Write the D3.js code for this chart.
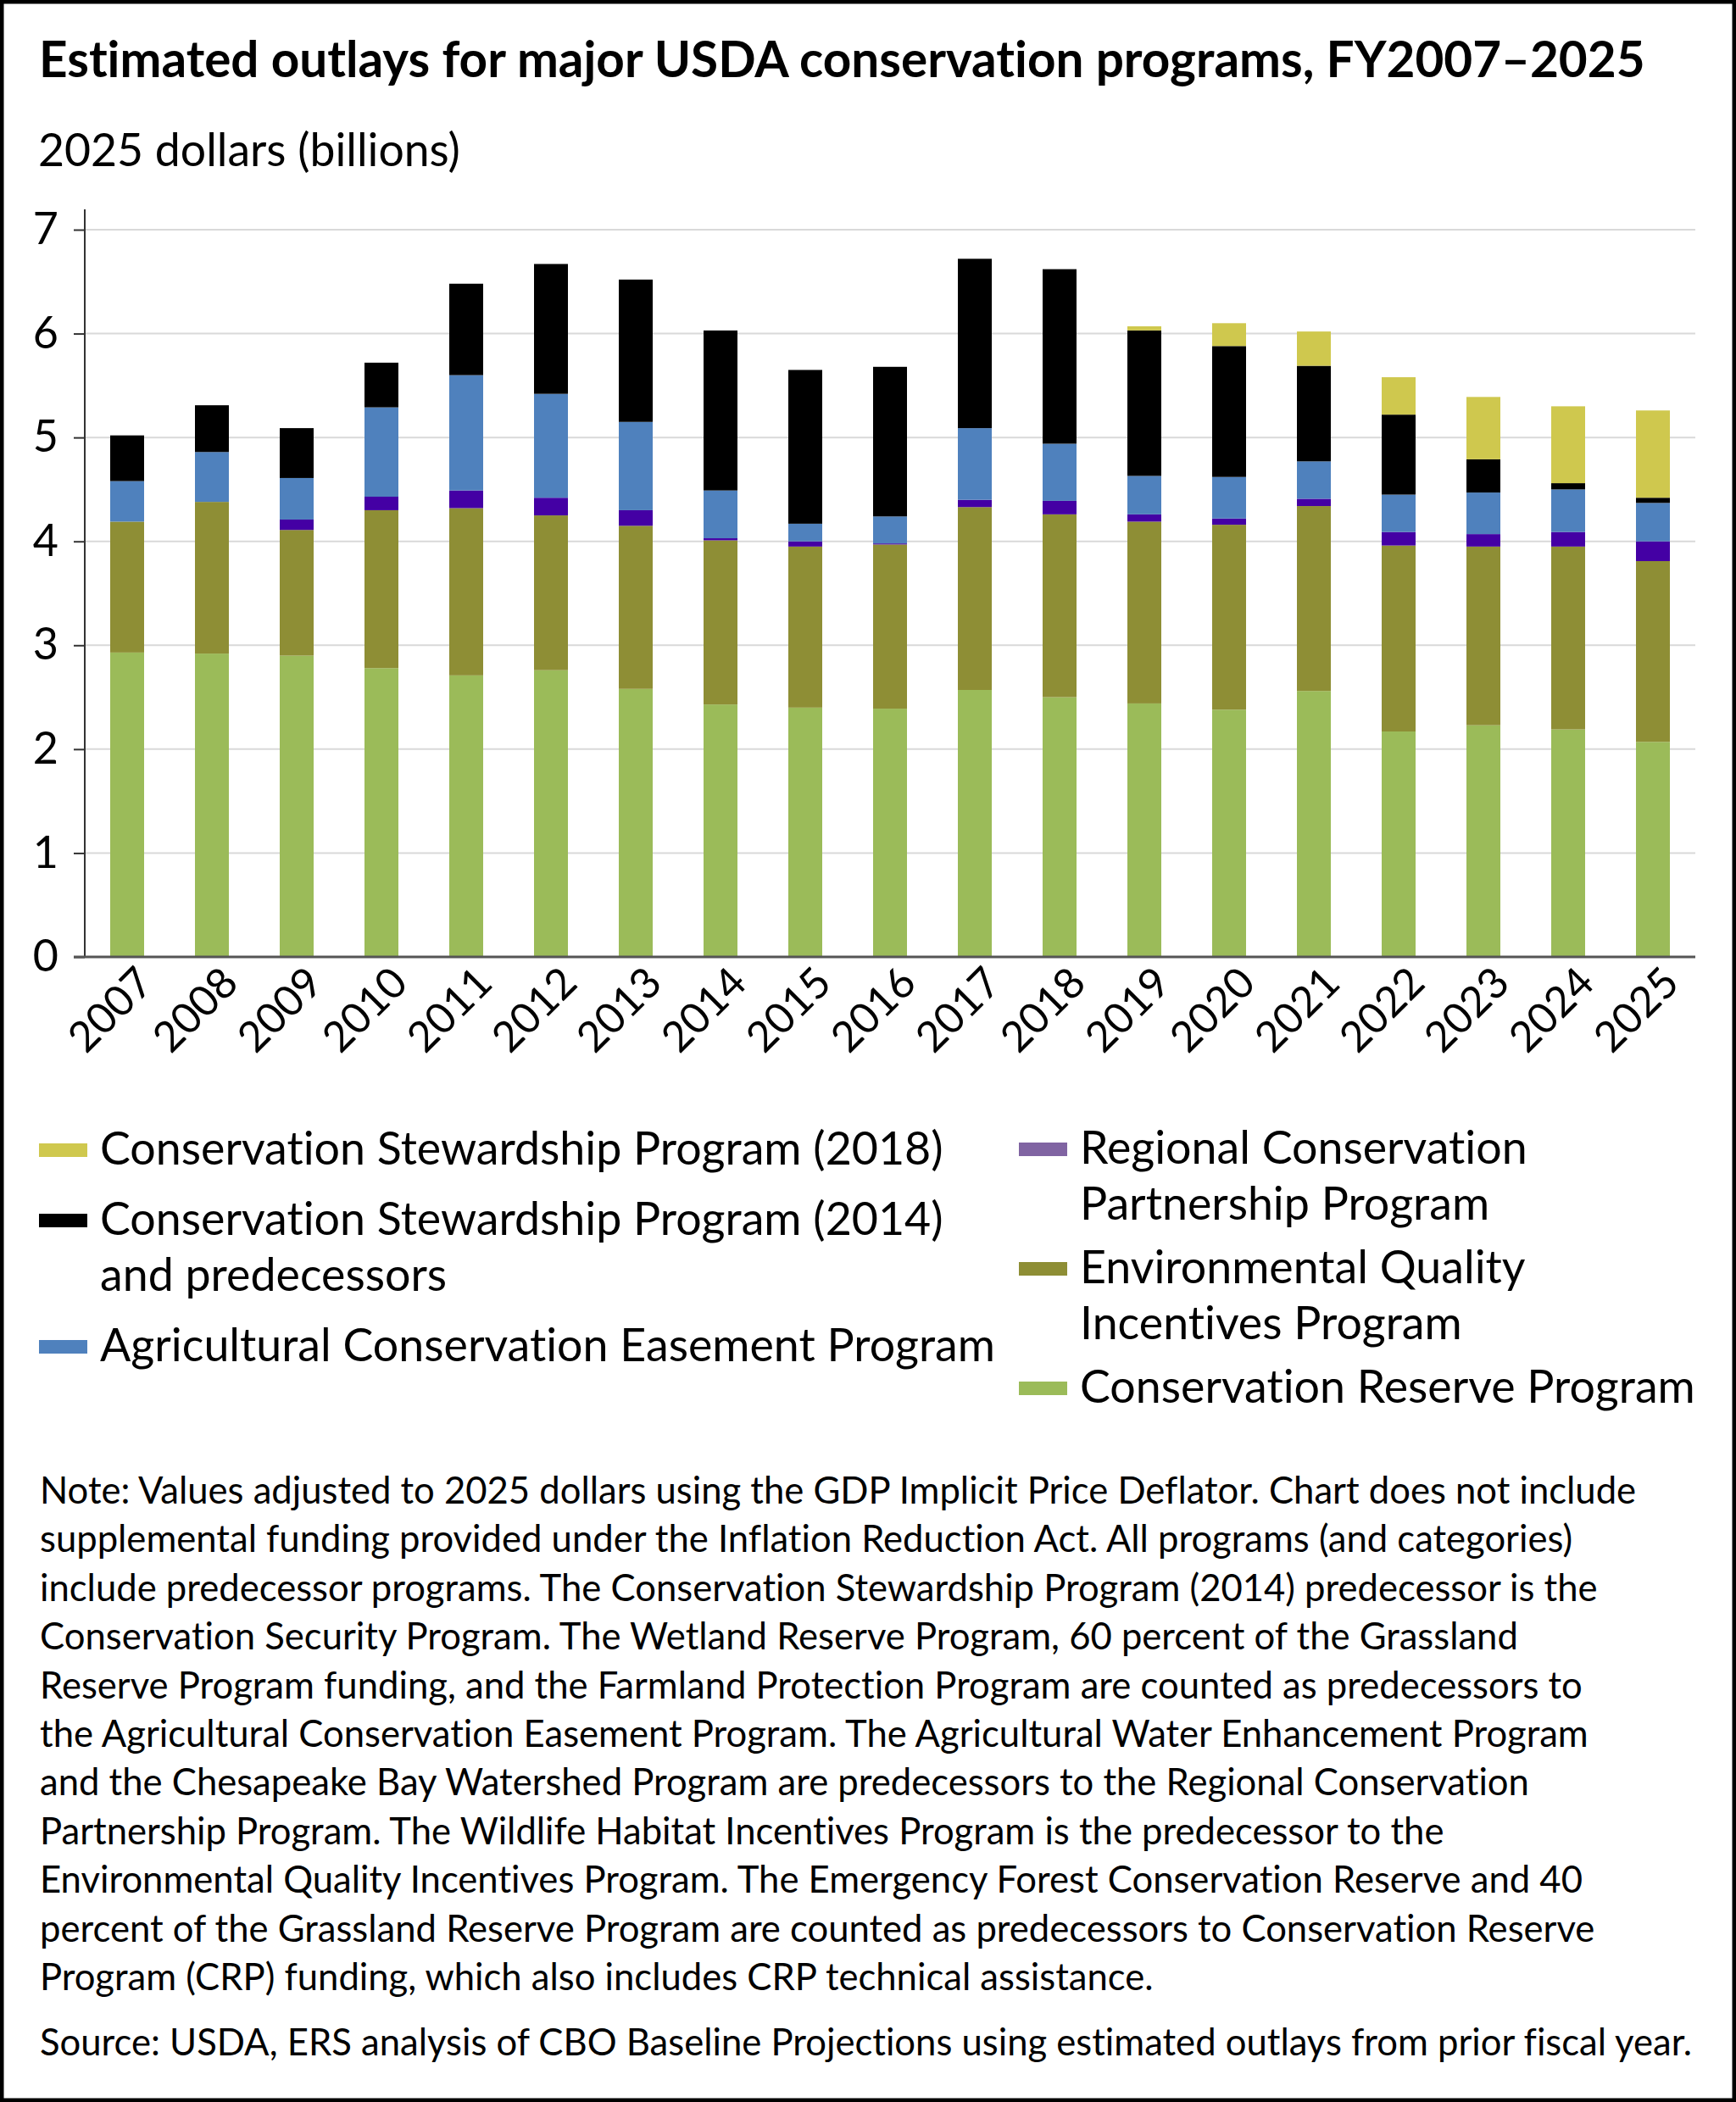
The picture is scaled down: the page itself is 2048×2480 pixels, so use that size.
<!DOCTYPE html>
<html>
<head>
<meta charset="utf-8">
<script src="https://cdn.jsdelivr.net/npm/d3@7"></script>
<style>
  body { margin: 0; background: #fff; }
  text { font-family: Lato, 'Noto Sans', sans-serif; fill: #000; font-variant-ligatures: none; }
</style>
</head>
<body>
<div id="chart"></div>
<script>
const years = ['2007', '2008', '2009', '2010', '2011', '2012', '2013', '2014', '2015', '2016',
  '2017', '2018', '2019', '2020', '2021', '2022', '2023', '2024', '2025']

// billions of 2025 dollars
const crp = [2.93, 2.92, 2.90, 2.78, 2.71, 2.76, 2.58, 2.43, 2.40, 2.39, 2.57, 2.50, 2.44, 2.38, 2.56, 2.17, 2.23, 2.19, 2.07]
const eqip = [1.26, 1.46, 1.21, 1.52, 1.61, 1.49, 1.57, 1.58, 1.55, 1.58, 1.76, 1.76, 1.75, 1.78, 1.78, 1.79, 1.72, 1.76, 1.74]
const rcpp = [0, 0, 0.10, 0.13, 0.17, 0.17, 0.15, 0.02, 0.05, 0.01, 0.07, 0.13, 0.07, 0.06, 0.07, 0.13, 0.12, 0.14, 0.19]
const acep = [0.39, 0.48, 0.40, 0.86, 1.11, 1.00, 0.85, 0.46, 0.17, 0.26, 0.69, 0.55, 0.37, 0.40, 0.36, 0.36, 0.40, 0.41, 0.37]
const csp2014 = [0.44, 0.45, 0.48, 0.43, 0.88, 1.25, 1.37, 1.54, 1.48, 1.44, 1.63, 1.68, 1.40, 1.26, 0.92, 0.77, 0.32, 0.06, 0.05]
const csp2018 = [0, 0, 0, 0, 0, 0, 0, 0, 0, 0, 0, 0, 0.04, 0.22, 0.33, 0.36, 0.60, 0.74, 0.84]

const yTicks = [0, 1, 2, 3, 4, 5, 6, 7]

const seriesKeys = ['crp', 'eqip', 'rcpp', 'acep', 'csp2014', 'csp2018']
const barColors = {
  crp: '#9bbb59',
  eqip: '#8e8e35',
  rcpp: '#4400a4',
  acep: '#4f81bd',
  csp2014: '#000000',
  csp2018: '#cfc84e',
}
// the legend swatch for RCPP is a lighter purple than its bars
const legendColors = Object.assign({}, barColors, { rcpp: '#8064a2' })

const legendLeft = [
  { key: 'csp2018', lines: ['Conservation Stewardship Program (2018)'] },
  { key: 'csp2014', lines: ['Conservation Stewardship Program (2014)', 'and predecessors'] },
  { key: 'acep', lines: ['Agricultural Conservation Easement Program'] },
]
const legendRight = [
  { key: 'rcpp', lines: ['Regional Conservation', 'Partnership Program'] },
  { key: 'eqip', lines: ['Environmental Quality', 'Incentives Program'] },
  { key: 'crp', lines: ['Conservation Reserve Program'] },
]

const titleText = 'Estimated outlays for major USDA conservation programs, FY2007\u20132025'
const unitText = '2025 dollars (billions)'
const noteLines = [
  'Note: Values adjusted to 2025 dollars using the GDP Implicit Price Deflator. Chart does not include',
  'supplemental funding provided under the Inflation Reduction Act. All programs (and categories)',
  'include predecessor programs. The Conservation Stewardship Program (2014) predecessor is the',
  'Conservation Security Program. The Wetland Reserve Program, 60 percent of the Grassland',
  'Reserve Program funding, and the Farmland Protection Program are counted as predecessors to',
  'the Agricultural Conservation Easement Program. The Agricultural Water Enhancement Program',
  'and the Chesapeake Bay Watershed Program are predecessors to the Regional Conservation',
  'Partnership Program. The Wildlife Habitat Incentives Program is the predecessor to the',
  'Environmental Quality Incentives Program. The Emergency Forest Conservation Reserve and 40',
  'percent of the Grassland Reserve Program are counted as predecessors to Conservation Reserve',
  'Program (CRP) funding, which also includes CRP technical assistance.',
]
const sourceText = 'Source: USDA, ERS analysis of CBO Baseline Projections using estimated outlays from prior fiscal year.'

// table for d3.stack
const table = years.map((yr, i) => ({
  year: yr, crp: crp[i], eqip: eqip[i], rcpp: rcpp[i],
  acep: acep[i], csp2014: csp2014[i], csp2018: csp2018[i],
}))

const width = 2048, height = 2480
const plot = { left: 100, right: 2000, top: 271, bottom: 1129 }

const svg = d3.select('#chart').append('svg')
  .attr('width', width)
  .attr('height', height)

svg.append('rect')
  .attr('x', 0).attr('y', 0)
  .attr('width', width).attr('height', height)
  .attr('fill', '#fff')
  .attr('stroke', '#000')
  .attr('stroke-width', 9)

// shrink/grow font so a text node spans a given width
function fitSize(node, target) {
  const fs = parseFloat(d3.select(node).attr('font-size'))
  return fs * target / node.getComputedTextLength()
}

const title = svg.append('text')
  .attr('x', 46).attr('y', 91)
  .attr('font-size', 52)
  .attr('font-weight', 700)
  .text(titleText)
title.attr('font-size', fitSize(title.node(), 1895))

const unit = svg.append('text')
  .attr('x', 45).attr('y', 196)
  .attr('font-size', 52)
  .text(unitText)
unit.attr('font-size', Math.min(54, fitSize(unit.node(), 498)))

const x = d3.scaleBand()
  .domain(years)
  .range([plot.left, plot.right])
  .paddingInner(0.6)
  .paddingOuter(0.3)

const y = d3.scaleLinear()
  .domain([0, 7])
  .range([plot.bottom, plot.top])

// gridlines
svg.append('g')
  .selectAll('line')
  .data(yTicks.filter(d => d > 0))
  .enter()
  .append('line')
  .attr('x1', plot.left).attr('x2', plot.right)
  .attr('y1', d => y(d)).attr('y2', d => y(d))
  .attr('stroke', '#d9d9d9')
  .attr('stroke-width', 2)

// bars
const stacked = d3.stack().keys(seriesKeys)(table)
svg.append('g')
  .selectAll('g')
  .data(stacked)
  .enter()
  .append('g')
  .attr('fill', d => barColors[d.key])
  .selectAll('rect')
  .data(d => d)
  .enter()
  .append('rect')
  .attr('x', d => x(d.data.year))
  .attr('width', x.bandwidth())
  .attr('y', d => y(d[1]))
  .attr('height', d => Math.max(0, y(d[0]) - y(d[1])))

// y axis
const yAxis = svg.append('g')
  .attr('transform', 'translate(' + plot.left + ',0)')
  .call(d3.axisLeft(y).tickValues(yTicks).tickFormat(d3.format('d'))
    .tickSize(13).tickPadding(18).tickSizeOuter(0))
yAxis.select('.domain').remove()
yAxis.selectAll('.tick line').attr('stroke', '#333').attr('stroke-width', 2)
yAxis.selectAll('.tick text')
  .attr('font-size', 52)
  .attr('font-family', "Lato, 'Noto Sans', sans-serif")
  .attr('fill', '#000')
svg.append('line')
  .attr('x1', plot.left).attr('x2', plot.left)
  .attr('y1', 247).attr('y2', plot.bottom)
  .attr('stroke', '#333')
  .attr('stroke-width', 2)

// x axis
const xAxis = svg.append('g')
  .attr('transform', 'translate(0,' + plot.bottom + ')')
  .call(d3.axisBottom(x).tickSize(0).tickPadding(0))
xAxis.select('.domain').remove()
xAxis.selectAll('.tick text')
  .attr('font-size', 50)
  .attr('font-family', "Lato, 'Noto Sans', sans-serif")
  .attr('fill', '#000')
  .attr('text-anchor', 'end')
  .attr('x', 0)
  .attr('y', 0)
  .attr('dy', '0.95em')
  .attr('transform', 'rotate(-45)')
svg.append('line')
  .attr('x1', 87).attr('x2', plot.right)
  .attr('y1', plot.bottom).attr('y2', plot.bottom)
  .attr('stroke', '#555')
  .attr('stroke-width', 3)

// legend
const legend = svg.append('g')
const legendLine = 66
const probe = legend.append('text')
  .attr('font-size', 50)
  .text(legendLeft[2].lines[0])
const legendSize = fitSize(probe.node(), 1056)
probe.remove()

function drawColumn(items, colX, textX, startY, gap) {
  let base = startY
  items.forEach(item => {
    legend.append('rect')
      .attr('x', colX).attr('y', base - 25)
      .attr('width', 57).attr('height', 16)
      .attr('fill', legendColors[item.key])
    item.lines.forEach((ln, j) => {
      legend.append('text')
        .attr('x', textX)
        .attr('y', base + j * legendLine)
        .attr('font-size', legendSize)
        .text(ln)
    })
    base += item.lines.length * legendLine + gap
  })
}
drawColumn(legendLeft, 46, 118, 1374, 17)
drawColumn(legendRight, 1202, 1274, 1373, 9)

// note and source
const notes = svg.append('g')
const src = notes.append('text')
  .attr('x', 47).attr('y', 2425)
  .attr('font-size', 44)
  .text(sourceText)
const noteSize = fitSize(src.node(), 1950)
src.attr('font-size', noteSize)
notes.selectAll('text.note')
  .data(noteLines)
  .enter()
  .append('text')
  .attr('class', 'note')
  .attr('x', 47)
  .attr('y', (d, i) => 1774 + i * 57.4)
  .attr('font-size', noteSize)
  .text(d => d)
</script>
</body>
</html>
